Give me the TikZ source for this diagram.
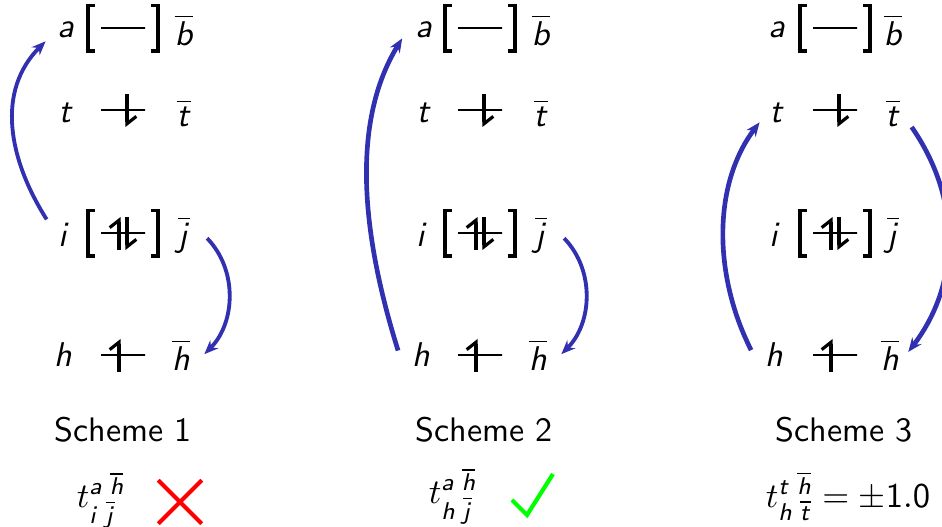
\documentclass[tikz,border=0pt]{standalone}
\usepackage{amsmath, amssymb}
\usepackage{xcolor}
\usepackage{tikz}
\usetikzlibrary{arrows.meta, shapes.misc}
\DeclareMathAlphabet{\mathsi}{OT1}{cmss}{m}{sl}
\definecolor{exblue}{HTML}{3030B0}

\begin{document}
\begin{tikzpicture}[
  x=0.3pt, y=-0.3pt,
  orb/.style={circle, inner sep=0pt, minimum size=13.2pt, scale=1.03},
  level/.style={draw, inner sep=0pt, minimum width=13.2pt, minimum height=0pt, line width=0.5pt},
  brack/.style={line width=1pt},
  spin/.style={line width=0.95pt, -{Straight Barb[left, length=2.2pt, width=5.6pt]}},
  caption/.style={font=\sffamily, scale=1.02},
  amp/.style={scale=1.04},
  excite/.style={exblue, line width=1.15pt, -{Stealth[length=4.2pt, width=3.4pt]}},
  exheavy/.style={excite, line width=1.4pt}
]
\useasboundingbox (0,0) rectangle (942,527);

\foreach \s/\dl/\dc/\dr in {1/0/0/0, 2/358/357/357, 3/711/712/709} {
  \foreach \r/\rr/\yl/\yv/\xl/\xr/\rbar in {a/b/30/28/66/184/b, t/bt/113/110/66/184/t, i/j/235/233/64/184/j, h/bh/355/355/63/181/h} {
    \node[orb] (\r\s) at (\xl+\dl,\yl) {$\mathsi{\r}$};
    \node[orb] (\rr\s) at (\xr+\dr,\yl) {$\overline{\mathsi{\rbar}}$};
    \node[level] (lev\r\s) at (123+\dc,\yv) {};
  }
  \foreach \r in {a, i} {
    \draw[brack] ([shift={(-28,-22.5)}]lev\r\s.center) -- ([shift={(-35,-22.5)}]lev\r\s.center) -- ([shift={(-35,23)}]lev\r\s.center) -- ([shift={(-28,23)}]lev\r\s.center);
    \draw[brack] ([shift={(28,-22.5)}]lev\r\s.center) -- ([shift={(35,-22.5)}]lev\r\s.center) -- ([shift={(35,23)}]lev\r\s.center) -- ([shift={(28,23)}]lev\r\s.center);
  }
  \foreach \r in {i, h}
    \draw[spin] ([shift={(-4,17)}]lev\r\s.center) -- ([shift={(-4,-16)}]lev\r\s.center);
  \foreach \r in {t, i}
    \draw[spin] ([shift={(4,-16)}]lev\r\s.center) -- ([shift={(4,17)}]lev\r\s.center);
}

\node[caption] (cap1) at (123,430) {Scheme 1};
\node[caption] (cap2) at (484,430) {Scheme 2};
\node[caption] (cap3) at (844,430) {Scheme 3};

\node[amp] (amp1) at (101,500) {$t^{\mathsi{a}\;\overline{\mathsi{h}}}_{\mathsi{i}\;\overline{\mathsi{j}}}$};
\node[amp] (amp2) at (453,496) {$t^{\mathsi{a}\;\overline{\mathsi{h}}}_{\mathsi{h}\;\overline{\mathsi{j}}}$};
\node[amp] (amp3) at (848,496) {$t^{\mathsi{t}\;\overline{\mathsi{h}}}_{\mathsi{h}\;\overline{\mathsi{t}}}=\pm\mathsf{1.0}$};

\node[draw=red, cross out, line width=1.25pt, inner sep=0pt, minimum size=11.8pt] (no1) at (180,502) {};
\draw[green, line width=1.25pt] (512,500) -- (527,515) -- (553,474);

\draw[excite] (i1.138) .. controls +(-38,-60) and +(-50,50) .. (a1.209);
\draw[excite] (j1.352) .. controls +(31,32) and +(31,-31) .. (bh1.2);
\draw[exheavy] (h2.169) .. controls +(-36,-115) and +(-52,85) .. (a2.201);
\draw[excite] (j2.352) .. controls +(31,32) and +(31,-31) .. (bh2.2);
\draw[exheavy] (h3.168) .. controls +(-38,-75) and +(-47,62) .. ([shift={(3,-2)}]t3.209);
\draw[exheavy] (bt3.323) .. controls +(50,72) and +(52,-68) .. ([shift={(-5,-1)}]bh3.5);
\end{tikzpicture}
\end{document}
